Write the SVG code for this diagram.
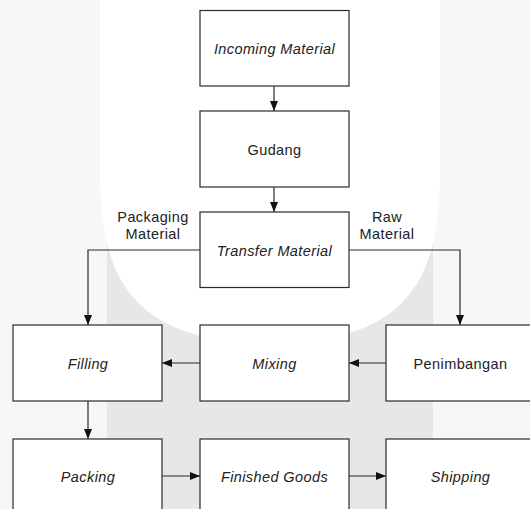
<svg xmlns="http://www.w3.org/2000/svg" width="530" height="509" viewBox="0 0 530 509">
<defs>
<style>
.box{fill:#ffffff;stroke:#2b2b2b;stroke-width:1.2}
.t{font-family:"Liberation Sans",Arial,sans-serif;font-size:14.5px;letter-spacing:0.4px;fill:#222222;text-anchor:middle;dominant-baseline:central}
.i{font-style:italic}
.c{fill:none;stroke:#2b2b2b;stroke-width:1.2}
</style>
<marker id="ah" viewBox="0 0 10 8" refX="10" refY="4" markerWidth="10" markerHeight="8" markerUnits="userSpaceOnUse" orient="auto">
<path d="M0,0 L10,4 L0,8 Z" fill="#111"/>
</marker>
</defs>
<g id="background">
<rect x="0" y="0" width="530" height="509" fill="#f7f7f7"/>
<rect x="107" y="100" width="326" height="409" fill="#e7e7e9"/>
<path d="M100,0 L440,0 L440,170 C440,285 405,340 270,345 C135,340 100,285 100,170 Z" fill="#ffffff"/>
</g>
<g id="connectors">
<line class="c" x1="274" y1="86" x2="274" y2="111" marker-end="url(#ah)"/>
<line class="c" x1="274" y1="187" x2="274" y2="212" marker-end="url(#ah)"/>
<polyline class="c" points="200,250 88,250 88,325" marker-end="url(#ah)"/>
<polyline class="c" points="349,250 460,250 460,325" marker-end="url(#ah)"/>
<line class="c" x1="386" y1="363" x2="349" y2="363" marker-end="url(#ah)"/>
<line class="c" x1="200" y1="363" x2="162" y2="363" marker-end="url(#ah)"/>
<line class="c" x1="88" y1="401" x2="88" y2="439" marker-end="url(#ah)"/>
<line class="c" x1="162" y1="476" x2="200" y2="476" marker-end="url(#ah)"/>
<line class="c" x1="349" y1="476" x2="386" y2="476" marker-end="url(#ah)"/>
<text class="t" x="153" y="217">Packaging</text>
<text class="t" x="153" y="234">Material</text>
<text class="t" x="387" y="217">Raw</text>
<text class="t" x="387" y="234">Material</text>
</g>
<g id="incoming">
<rect class="box" x="200" y="10.5" width="149" height="75.5"/>
<text class="t i" x="274.5" y="48.5">Incoming Material</text>
</g>
<g id="gudang">
<rect class="box" x="200" y="111" width="149" height="76"/>
<text class="t" x="274.5" y="149.5">Gudang</text>
</g>
<g id="transfer">
<rect class="box" x="200" y="212" width="149" height="75.5"/>
<text class="t i" x="274.5" y="250.5">Transfer Material</text>
</g>
<g id="filling">
<rect class="box" x="13" y="325" width="149" height="76"/>
<text class="t i" x="88" y="363.5">Filling</text>
</g>
<g id="mixing">
<rect class="box" x="200" y="325" width="149" height="76"/>
<text class="t i" x="274.5" y="363.5">Mixing</text>
</g>
<g id="penimbangan">
<rect class="box" x="386" y="325" width="149" height="76"/>
<text class="t" x="460.5" y="363.5">Penimbangan</text>
</g>
<g id="packing">
<rect class="box" x="13" y="439" width="149" height="76"/>
<text class="t i" x="88" y="476.5">Packing</text>
</g>
<g id="finished">
<rect class="box" x="200" y="439" width="149" height="76"/>
<text class="t i" x="274.5" y="476.5">Finished Goods</text>
</g>
<g id="shipping">
<rect class="box" x="386" y="439" width="149" height="76"/>
<text class="t i" x="460.5" y="476.5">Shipping</text>
</g>
</svg>
